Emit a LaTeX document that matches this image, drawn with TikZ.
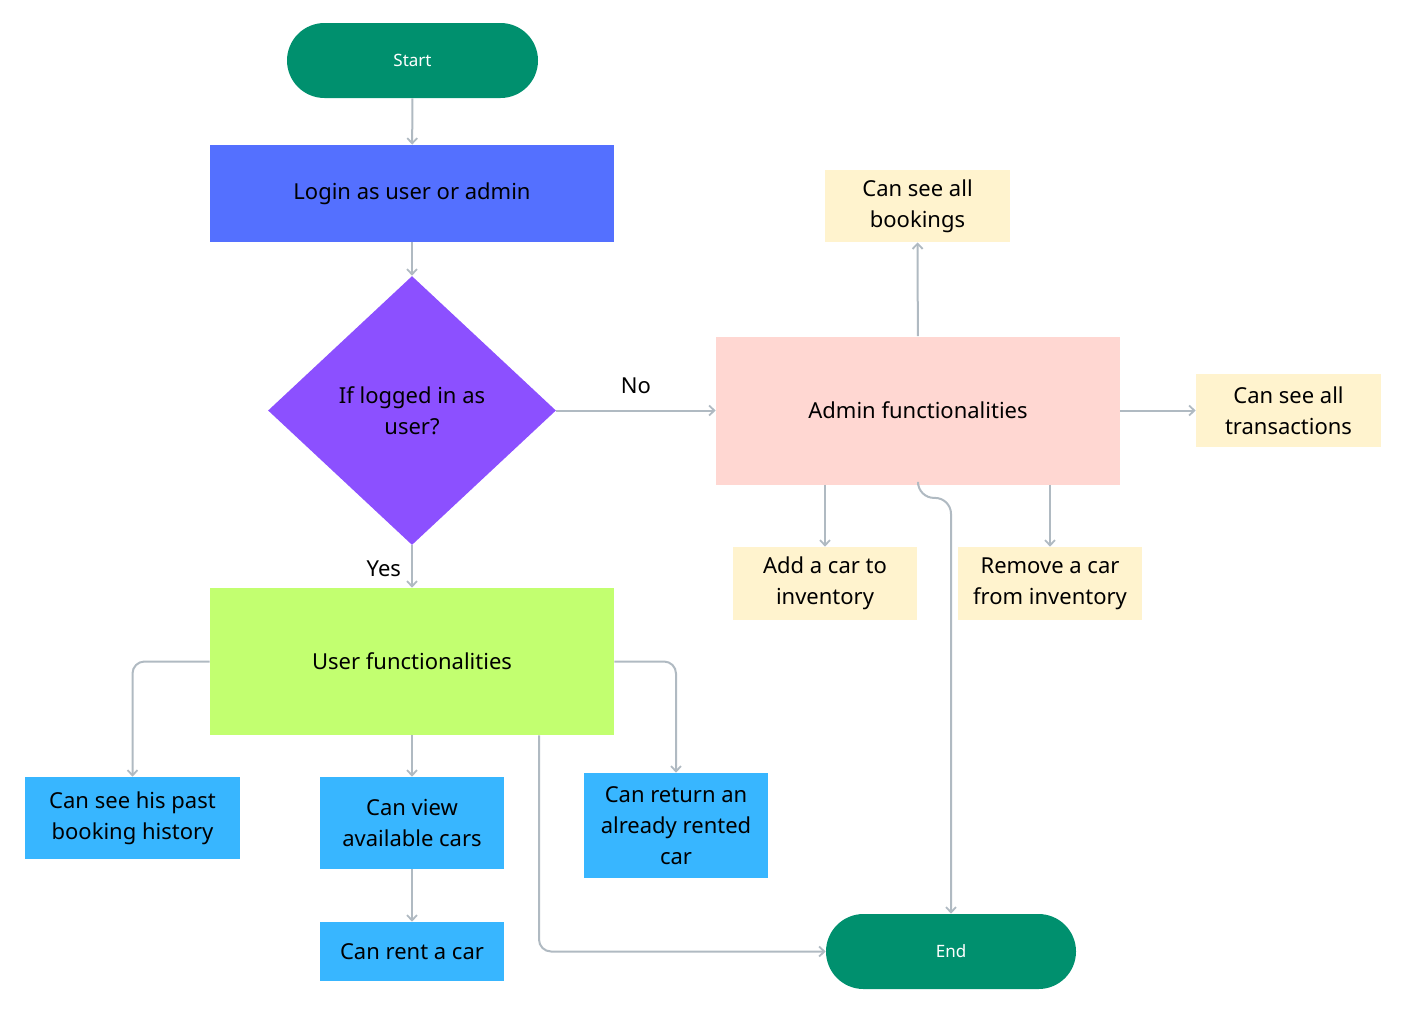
\documentclass[tikz,border=0pt]{standalone}
\usepackage{fontspec}
\setmainfont{Noto Sans}
\usetikzlibrary{arrows.meta,shapes.geometric,shapes.misc}
\definecolor{startgreen}{RGB}{0,144,110}
\definecolor{loginblue}{RGB}{84,112,255}
\definecolor{diapurple}{RGB}{140,80,255}
\definecolor{usergreen}{RGB}{194,255,112}
\definecolor{adminpink}{RGB}{255,215,210}
\definecolor{noteyellow}{RGB}{255,243,206}
\definecolor{skyblue}{RGB}{56,182,255}
\definecolor{linegray}{RGB}{176,186,194}
\tikzset{
  txt/.style={font=\fontsize{11}{15.5}\selectfont, text=black, align=center, inner sep=0pt},
  terminal/.style={rounded rectangle, fill=startgreen, text=white, font=\fontsize{8.5}{10}\selectfont, minimum width=125.5pt, minimum height=37.5pt, inner sep=0pt},
  conn/.style={draw=linegray, line width=1pt, -{Straight Barb[length=2.6pt,width=5pt,line width=0.9pt]}, rounded corners=6pt},
  lbl/.style={font=\fontsize{11}{12}\selectfont, inner sep=0pt}
}
\begin{document}
\begin{tikzpicture}[x=0.5pt,y=-0.5pt]
\useasboundingbox (0,0) rectangle (1406,1013);
\node[terminal] (start) at (412.5,60.5) {Start};
\node[txt, fill=loginblue, minimum width=202pt, minimum height=48.5pt] (login) at (412,193.5) {Login as user or admin};
\node[txt, diamond, fill=diapurple, minimum width=144pt, minimum height=134.5pt] (dec) at (412,410.5) {If logged in as\\user?};
\node[txt, fill=usergreen, minimum width=202pt, minimum height=73.5pt] (user) at (412,661.5) {User functionalities};
\node[txt, fill=adminpink, minimum width=202pt, minimum height=74pt] (admin) at (918,410.5) {Admin functionalities};
\node[txt, fill=noteyellow, minimum width=92.5pt, minimum height=36pt] (book) at (917.5,206) {Can see all\\bookings};
\node[txt, fill=noteyellow, minimum width=92.5pt, minimum height=36.5pt] (trans) at (1288.5,410.5) {Can see all\\transactions};
\node[txt, fill=noteyellow, minimum width=92pt, minimum height=36.5pt] (add) at (825,583.5) {Add a car to\\inventory};
\node[txt, fill=noteyellow, minimum width=92pt, minimum height=36.5pt] (remove) at (1050,583.5) {Remove a car\\from inventory};
\node[txt, fill=skyblue, minimum width=107.5pt, minimum height=41pt] (past) at (132.5,818) {Can see his past\\booking history};
\node[txt, fill=skyblue, minimum width=92pt, minimum height=46pt] (view) at (412,823) {Can view\\available cars};
\node[txt, fill=skyblue, minimum width=92pt, minimum height=29.5pt] (rent) at (412,951.5) {Can rent a car};
\node[txt, fill=skyblue, minimum width=92pt, minimum height=52.5pt] (ret) at (676,825.5) {Can return an\\already rented\\car};
\node[terminal, minimum width=125pt] (end) at (951,951.5) {End};

\draw[conn] (start) -- (login);
\draw[conn] (login) -- (dec);
\draw[conn] (dec) -- node[lbl, above=8pt] (nolbl) {No} (admin);
\draw[conn] (dec) -- node[lbl, left=5pt, pos=0.55] (yeslbl) {Yes} (user);
\draw[conn] (admin) -- (book);
\draw[conn] (admin) -- (trans);
\draw[conn] (admin.south -| add) -- (add);
\draw[conn] (admin.south -| remove) -- (remove);
\draw[conn, rounded corners=8pt] (admin.south) -- ++(0,13) -| (end.north);
\draw[conn] (user.west) -| (past.north);
\draw[conn] (user) -- (view);
\draw[conn] (view) -- (rent);
\draw[conn] (user.east) -| (ret.north);
\draw[conn] (user.south -| 539,0) |- (end.west);
\end{tikzpicture}
\end{document}
